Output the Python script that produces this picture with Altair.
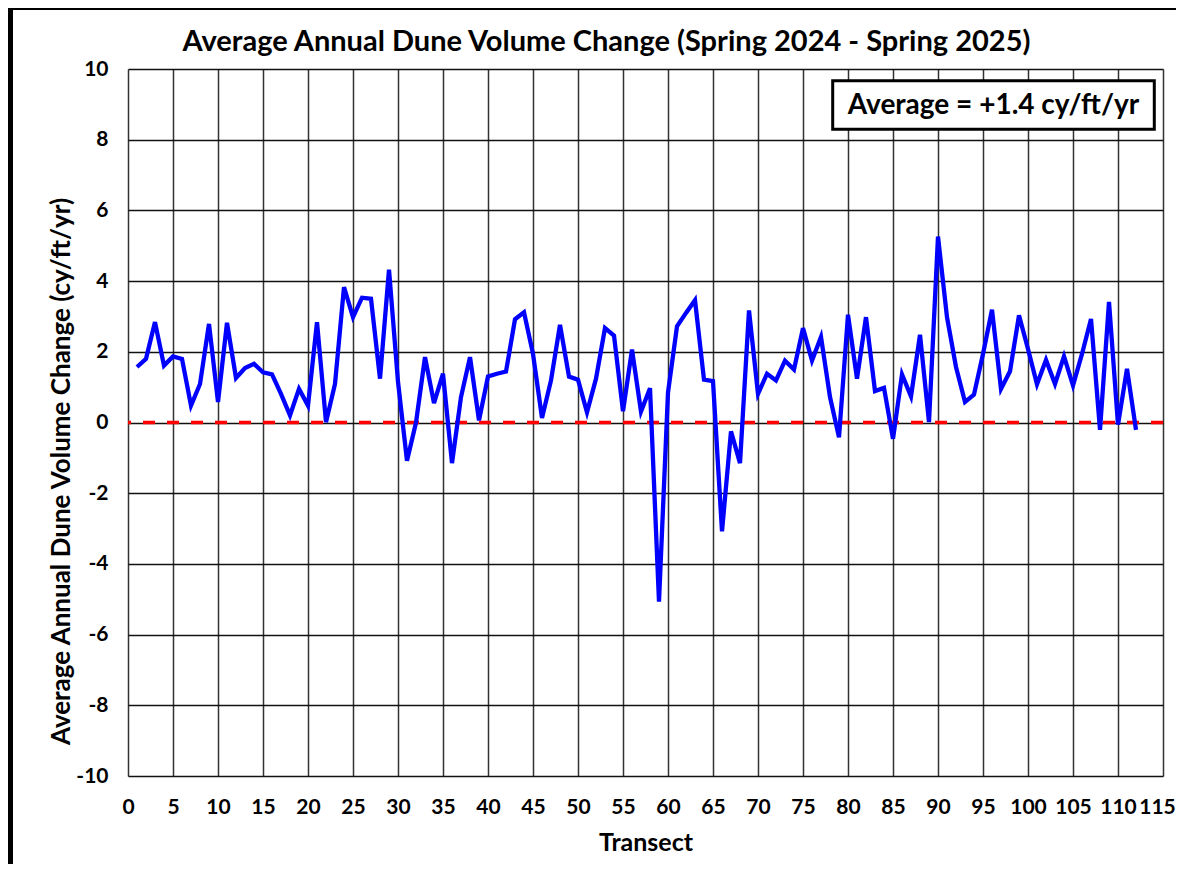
import altair as alt
import pandas as pd

transects = list(range(1, 113))
values = [
    1.57, 1.80, 2.84, 1.61, 1.87, 1.80, 0.48, 1.09, 2.79, 0.58,
    2.82, 1.26, 1.54, 1.66, 1.42, 1.36, 0.81, 0.20, 0.95, 0.48,
    2.84, 0.01, 1.09, 3.83, 2.98, 3.53, 3.50, 1.24, 4.32, 1.15,
    -1.08, 0.00, 1.85, 0.55, 1.38, -1.15, 0.72, 1.85, 0.06, 1.30,
    1.38, 1.44, 2.92, 3.12, 1.94, 0.13, 1.19, 2.76, 1.30, 1.21,
    0.29, 1.24, 2.67, 2.46, 0.32, 2.06, 0.31, 0.97, -5.07, 0.85,
    2.72, 3.10, 3.46, 1.21, 1.17, -3.08, -0.25, -1.15, 3.17, 0.81,
    1.38, 1.19, 1.75, 1.50, 2.67, 1.75, 2.42, 0.72, -0.42, 3.05,
    1.24, 2.98, 0.89, 0.98, -0.46, 1.36, 0.74, 2.48, 0.01, 5.26,
    2.98, 1.57, 0.58, 0.79, 1.94, 3.19, 0.95, 1.45, 3.03, 2.08,
    1.08, 1.77, 1.09, 1.87, 1.05, 1.94, 2.93, -0.21, 3.41, -0.06,
    1.52, -0.21,
]
x_ticks = list(range(0, 116, 5))
y_ticks = list(range(-10, 11, 1))
zero_line = [0]
title_text = "Average Annual Dune Volume Change (Spring 2024 - Spring 2025)"
x_title = "Transect"
y_title = "Average Annual Dune Volume Change (cy/ft/yr)"
note_text = "Average = +1.4 cy/ft/yr"

FONT = "Lato"
df = pd.DataFrame({"t": transects, "v": values})
zero_df = pd.DataFrame({"v": zero_line})
one = pd.DataFrame({"a": [0]})

xscale = alt.Scale(domain=[0, 115], nice=False, zero=False)
yscale = alt.Scale(domain=[-10, 10], nice=False, zero=False)

xaxis = alt.Axis(
    values=x_ticks, title=x_title, grid=True, gridColor="#333333", gridWidth=1.5,
    gridOpacity=1, ticks=False, domain=False, labelFont=FONT, labelFontSize=21,
    labelFontWeight="bold", labelColor="black", labelPadding=20,
    labelOffset={"condition": {"test": "datum.value === 115", "value": -6}, "value": 0},
    titleFont=FONT, titleFontSize=25, titleFontWeight="bold", titleColor="black",
    titlePadding=13, labelFlush=False, labelOverlap=False,
)
yaxis = alt.Axis(
    values=y_ticks, title=y_title, grid=True,
    gridColor={"condition": {"test": "datum.value % 2 === 0", "value": "#111111"}, "value": "#c8c8c8"},
    gridWidth=1.5, gridOpacity=1, ticks=False, domain=False,
    labelExpr="datum.value % 2 === 0 ? ('' + datum.value) : ''",
    labelFont=FONT, labelFontSize=21, labelFontWeight="bold", labelColor="black",
    labelPadding=20, labelFlush=False, labelOverlap=False,
    titleFont=FONT, titleFontSize=26, titleFontWeight="bold", titleColor="black",
    titlePadding=1, titleY=402,
)

base_line = alt.Chart(df).mark_line(color="#0000ff", strokeWidth=4.3, strokeJoin="miter").encode(
    x=alt.X("t:Q", scale=xscale, axis=xaxis),
    y=alt.Y("v:Q", scale=yscale, axis=yaxis),
)

zero_rule = alt.Chart(zero_df).mark_rule(color="#ff0000", strokeWidth=3.5, strokeDash=[12, 12]).encode(
    y=alt.Y("v:Q", scale=yscale)
)

box = alt.Chart(one).mark_rect(fill="white", stroke="black", strokeWidth=3).encode(
    x=alt.value(704.7), x2=alt.value(1026.3), y=alt.value(11.7), y2=alt.value(60.3)
)
note = alt.Chart(one).mark_text(
    text=note_text, font=FONT, fontSize=28, fontWeight="bold", color="black",
    align="center", baseline="middle"
).encode(x=alt.value(865.5), y=alt.value(37))

title = alt.Chart(one).mark_text(
    text=title_text, font=FONT, fontSize=29, fontWeight="bold", color="black",
    align="center", baseline="alphabetic"
).encode(x=alt.value(478.5), y=alt.value(-18))

left_frame = alt.Chart(one).mark_rule(color="black", strokeWidth=5).encode(
    x=alt.value(-117.5), y=alt.value(-61), y2=alt.value(795)
)
top_frame = alt.Chart(one).mark_rule(color="black", strokeWidth=2).encode(
    x=alt.value(-120), x2=alt.value(1048), y=alt.value(-60)
)

chart = alt.layer(zero_rule, base_line, box, note, title, left_frame, top_frame).properties(
    width=1035, height=707,
    autosize=alt.AutoSizeParams(type="none"),
    padding={"left": 120, "top": 61, "right": 13, "bottom": 88},
).configure_view(stroke="black", strokeWidth=1.5).configure(background="white")

chart.save("out.html", embed_options={"renderer": "svg", "actions": False})
